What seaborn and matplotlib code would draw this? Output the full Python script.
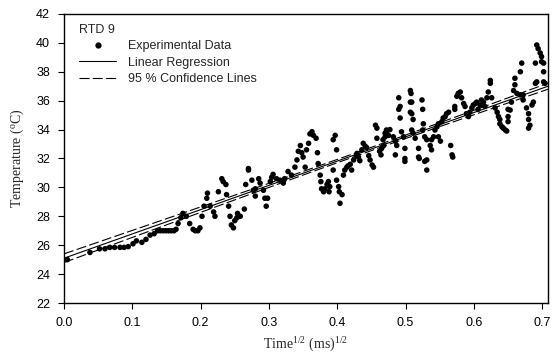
import numpy as np
import pandas as pd
import matplotlib
matplotlib.use("Agg")
import matplotlib.pyplot as plt
from matplotlib.lines import Line2D
import seaborn as sns

time_sqrt = [
    0.005, 0.038, 0.052, 0.060, 0.067, 0.074, 0.082, 0.088, 0.094, 0.101,
    0.106, 0.114, 0.120, 0.126, 0.132, 0.137, 0.141, 0.145, 0.149, 0.153,
    0.157, 0.161, 0.164, 0.167, 0.171, 0.174, 0.179, 0.184, 0.189, 0.192,
    0.196, 0.199, 0.202, 0.205, 0.209, 0.210, 0.214, 0.219, 0.221, 0.226,
    0.231, 0.233, 0.237, 0.238, 0.241, 0.243, 0.245, 0.248, 0.250, 0.254,
    0.253, 0.258, 0.264, 0.266, 0.270, 0.270, 0.275, 0.277, 0.280, 0.280,
    0.285, 0.287, 0.292, 0.294, 0.298, 0.296, 0.302, 0.304, 0.306, 0.311,
    0.316, 0.321, 0.323, 0.328, 0.333, 0.338, 0.341, 0.343, 0.346, 0.348,
    0.350, 0.353, 0.355, 0.358, 0.360, 0.363, 0.365, 0.369, 0.371, 0.372,
    0.375, 0.376, 0.377, 0.380, 0.382, 0.385, 0.387, 0.389, 0.388, 0.394,
    0.397, 0.399, 0.394, 0.399, 0.402, 0.403, 0.404, 0.407, 0.409, 0.411,
    0.414, 0.416, 0.419, 0.421, 0.424, 0.428, 0.429, 0.431, 0.433, 0.436,
    0.438, 0.441, 0.443, 0.446, 0.448, 0.451, 0.453, 0.456, 0.458, 0.458,
    0.462, 0.464, 0.468, 0.470, 0.472, 0.465, 0.467, 0.470, 0.472, 0.477,
    0.475, 0.482, 0.485, 0.487, 0.485, 0.490, 0.492, 0.490, 0.492, 0.494,
    0.497, 0.499, 0.499, 0.499, 0.507, 0.508, 0.507, 0.509, 0.507, 0.509,
    0.511, 0.509, 0.511, 0.514, 0.519, 0.519, 0.520, 0.524, 0.525, 0.526,
    0.525, 0.528, 0.531, 0.531, 0.528, 0.531, 0.536, 0.538, 0.541, 0.538,
    0.543, 0.546, 0.548, 0.548, 0.551, 0.553, 0.555, 0.558, 0.560, 0.563,
    0.568, 0.569, 0.566, 0.572, 0.572, 0.575, 0.577, 0.580, 0.582, 0.585,
    0.587, 0.589, 0.592, 0.594, 0.597, 0.599, 0.602, 0.604, 0.606, 0.609,
    0.611, 0.614, 0.616, 0.619, 0.621, 0.624, 0.624, 0.626, 0.631, 0.634,
    0.636, 0.638, 0.638, 0.641, 0.643, 0.646, 0.648, 0.650, 0.650, 0.650,
    0.653, 0.655, 0.658, 0.660, 0.660, 0.663, 0.668, 0.672, 0.670, 0.668,
    0.672, 0.677, 0.680, 0.680, 0.682, 0.680, 0.685, 0.687, 0.690, 0.692,
    0.692, 0.694, 0.697, 0.699, 0.699, 0.702, 0.702, 0.704, 0.702, 0.690,
]
temperature = [
    25.0, 25.5, 25.75, 25.75, 25.85, 25.85, 25.85, 25.85, 25.9, 26.1,
    26.3, 26.2, 26.4, 26.7, 26.8, 27.0, 27.0, 27.0, 27.0, 27.0,
    27.0, 27.0, 27.1, 27.5, 27.9, 28.2, 28.0, 27.5, 27.1, 27.0,
    27.0, 27.2, 28.0, 28.7, 29.25, 29.6, 28.7, 28.3, 28.0, 29.7,
    30.6, 30.4, 30.2, 29.5, 28.7, 28.0, 27.4, 27.2, 27.7, 28.2,
    27.9, 28.0, 28.5, 30.2, 31.3, 31.2, 30.5, 29.8, 29.9, 29.4,
    30.6, 30.3, 29.8, 29.25, 29.25, 28.7, 30.4, 30.7, 30.9, 30.6,
    30.5, 30.3, 30.6, 31.1, 30.85, 31.4, 31.9, 32.5, 32.9, 32.4,
    32.1, 31.4, 32.6, 33.05, 33.7, 33.85, 33.6, 33.4, 32.4, 31.65,
    30.85, 30.4, 29.9, 29.7, 29.9, 30.2, 30.4, 30.05, 29.7, 33.3,
    33.6, 32.6, 31.2, 30.5, 30.05, 29.7, 28.9, 29.5, 30.85, 31.2,
    31.4, 31.5, 31.6, 31.2, 31.9, 32.2, 32.35, 32.1, 31.85, 32.6,
    33.05, 32.85, 32.75, 32.2, 31.9, 31.55, 31.4, 34.3, 34.1, 33.4,
    32.5, 32.25, 32.9, 33.5, 33.85, 32.7, 33.3, 33.75, 33.97, 34.0,
    33.6, 33.5, 33.2, 32.9, 32.25, 36.2, 35.6, 35.4, 34.8, 33.85,
    33.5, 32.7, 32.0, 31.8, 36.7, 36.5, 35.9, 35.9, 35.2, 35.1,
    34.7, 33.97, 33.75, 33.4, 32.7, 32.1, 32.0, 36.05, 35.4, 34.4,
    33.97, 33.5, 33.3, 31.9, 31.8, 31.2, 32.9, 33.3, 33.5, 32.6,
    33.97, 34.2, 34.4, 33.5, 33.2, 34.55, 34.8, 34.9, 35.1, 35.2,
    32.25, 32.1, 32.9, 35.6, 35.4, 36.3, 36.5, 36.6, 36.2, 35.8,
    35.6, 35.1, 34.9, 35.2, 35.5, 35.7, 35.8, 35.9, 35.4, 35.7,
    36.05, 35.9, 35.6, 36.2, 36.6, 37.2, 37.4, 36.2, 35.5, 35.2,
    34.9, 34.7, 34.4, 34.2, 34.1, 33.97, 33.9, 34.55, 34.9, 35.4,
    35.35, 35.9, 36.7, 37.1, 37.55, 36.5, 36.4, 36.4, 38.6, 38.0,
    36.05, 35.5, 35.1, 34.7, 34.3, 34.1, 35.7, 35.9, 37.2, 37.3,
    39.85, 39.6, 39.3, 39.05, 38.7, 38.6, 38.0, 37.2, 37.3, 38.6,
]

# regression values as printed in the figure
reg_intercept = 25.1
reg_slope = 16.8
ci_at_zero = 0.3

df = pd.DataFrame({"t": time_sqrt, "T": temperature})

# shape of the 95% confidence lines from the data spread, scaled to the figure
n = len(df)
xbar = df["t"].mean()
sxx = ((df["t"] - xbar) ** 2).sum()
xfit = np.linspace(0, 0.7083, 100)
yfit = reg_intercept + reg_slope * xfit
shape = np.sqrt(1 / n + (xfit - xbar) ** 2 / sxx)
half = ci_at_zero * shape / np.sqrt(1 / n + xbar ** 2 / sxx)
fit = pd.DataFrame({"x": xfit, "y": yfit, "lo": yfit - half, "hi": yfit + half})

sns.set_style("ticks")
plt.rcParams["font.family"] = ["Liberation Sans", "DejaVu Sans"]
plt.rcParams["mathtext.fontset"] = "custom"
plt.rcParams["mathtext.rm"] = "Liberation Serif"
plt.rcParams["mathtext.it"] = "Liberation Serif:italic"

fig = plt.figure(figsize=(5.54, 3.58), dpi=100)
ax = fig.add_axes([0.1155, 0.1536, 0.8735, 0.8074])

sns.scatterplot(data=df, x="t", y="T", ax=ax, color="black", s=16,
                edgecolor="none", zorder=3)
sns.lineplot(data=fit, x="x", y="y", ax=ax, color="black", lw=0.8)
sns.lineplot(data=fit, x="x", y="lo", ax=ax, color="black", lw=0.8,
             linestyle=(0, (9, 3)))
sns.lineplot(data=fit, x="x", y="hi", ax=ax, color="black", lw=0.8,
             linestyle=(0, (9, 3)))

ax.set_xlim(0, 0.7083)
ax.set_ylim(22, 42)
ax.set_xticks(np.arange(0, 0.71, 0.1))
ax.set_xticklabels(["0.0", "0.1", "0.2", "0.3", "0.4", "0.5", "0.6", "0.7"])
ax.set_yticks(np.arange(22, 43, 2))
ax.tick_params(direction="out", length=4, width=0.8, labelsize=9,
               colors="black", pad=6)
for sp in ax.spines.values():
    sp.set_linewidth(1.0)
    sp.set_color("black")

serif = {"family": "Liberation Serif", "size": 10}
ax.set_xlabel(r"Time$^{\mathrm{1/2}}$ (ms)$^{\mathrm{1/2}}$", fontdict=serif, labelpad=5)
ax.set_ylabel(r"Temperature ($^{\mathrm{o}}$C)", fontdict=serif, labelpad=7)

handles = [
    Line2D([], [], color="black", marker="o", markersize=3.5, linestyle="none"),
    Line2D([], [], color="black", lw=0.8),
    Line2D([], [], color="black", lw=0.8, linestyle=(0, (9, 3))),
]
leg = ax.legend(handles, ["Experimental Data", "Linear Regression",
                          "95 % Confidence Lines"],
                loc="upper left", frameon=False, title="RTD 9",
                alignment="left", fontsize=9, title_fontsize=9,
                handlelength=3.0, handletextpad=0.9, labelspacing=0.35,
                borderaxespad=0.4, bbox_to_anchor=(0.01, 1.0))

fig.savefig("out.png", dpi=100)
